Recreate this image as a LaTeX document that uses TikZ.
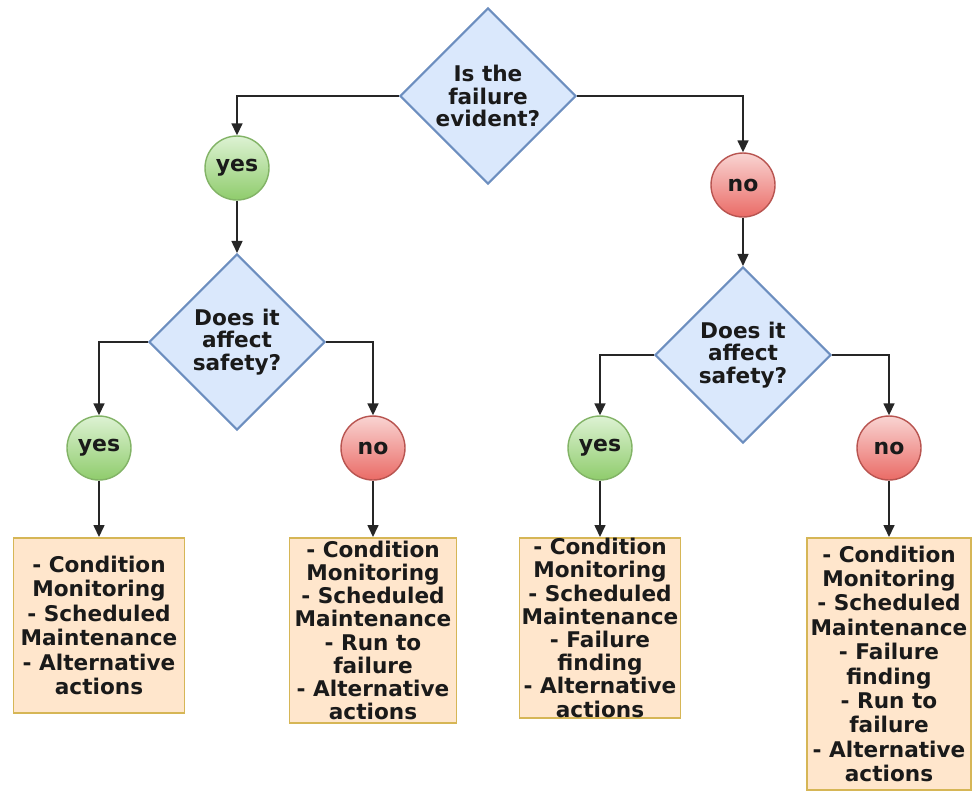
\documentclass[tikz,border=0pt]{standalone}
\usepackage{fontspec}
\setmainfont{DejaVu Sans}
\usetikzlibrary{shapes.geometric, arrows.meta}

\definecolor{qfill}{HTML}{DAE8FC}
\definecolor{qline}{HTML}{6C8EBF}
\definecolor{yestop}{HTML}{DDF2D3}
\definecolor{yesbot}{HTML}{8FCC6C}
\definecolor{yesline}{HTML}{82B366}
\definecolor{notop}{HTML}{F9D4D2}
\definecolor{nobot}{HTML}{EA6B66}
\definecolor{noline}{HTML}{B85450}
\definecolor{actfill}{HTML}{FFE6CC}
\definecolor{actline}{HTML}{D6B656}
\definecolor{txt}{HTML}{1A1A1A}

\tikzset{
  question/.style={diamond, draw=qline, fill=qfill, line width=1.2pt, inner sep=0pt,
    minimum width=3.52cm, minimum height=3.52cm, align=center, text=txt,
    font=\bfseries\fontsize{12.3}{12.8}\selectfont},
  yesdot/.style={circle, draw=yesline, top color=yestop, bottom color=yesbot, line width=0.8pt,
    minimum size=1.28cm, inner sep=0pt, text=txt, font=\bfseries\fontsize{12.5}{14}\selectfont},
  nodot/.style={circle, draw=noline, top color=notop, bottom color=nobot, line width=0.8pt,
    minimum size=1.28cm, inner sep=0pt, text=txt, font=\bfseries\fontsize{12.5}{14}\selectfont},
  actions/.style={rectangle, draw=actline, fill=actfill, line width=1pt, anchor=north,
    align=center, text=txt, inner sep=0pt, font=\bfseries\fontsize{12.3}{13.2}\selectfont},
  wide/.style={font=\bfseries\fontsize{12.3}{13.9}\selectfont},
  link/.style={draw=black!85, line width=0.9pt, -{Triangle[length=2.4mm, width=2.2mm]}}
}

\begin{document}
\begin{tikzpicture}[x=0.02cm, y=-0.02cm]
\useasboundingbox (0,0) rectangle (973,796);

\node[question] (evident) at (488,96) {Is the\\failure\\evident?};
\node[yesdot] (yesTop) at (237,168) {yes};
\node[nodot] (noTop) at (743,185) {no};

\node[question] (safeL) at (237,342) {Does it\\affect\\safety?};
\node[question] (safeR) at (743,355) {Does it\\affect\\safety?};

\node[yesdot] (yesL) at (99,448) {yes};
\node[nodot] (noL) at (373,448) {no};
\node[yesdot] (yesR) at (600,448) {yes};
\node[nodot] (noR) at (889,448) {no};

\node[actions, wide, minimum width=3.42cm, minimum height=3.5cm] (actLY) at (99,537)
  {- Condition\\Monitoring\\- Scheduled\\Maintenance\\- Alternative\\actions};
\node[actions, minimum width=3.34cm, minimum height=3.7cm] (actLN) at (373,537)
  {- Condition\\Monitoring\\- Scheduled\\Maintenance\\- Run to\\failure\\- Alternative\\actions};
\node[actions, minimum width=3.22cm, minimum height=3.6cm] (actRY) at (600,537)
  {- Condition\\Monitoring\\- Scheduled\\Maintenance\\- Failure\\finding\\- Alternative\\actions};
\node[actions, wide, minimum width=3.28cm, minimum height=5.04cm] (actRN) at (889,537)
  {- Condition\\Monitoring\\- Scheduled\\Maintenance\\- Failure\\finding\\- Run to\\failure\\- Alternative\\actions};

\draw[link] (evident.west) -| (yesTop);
\draw[link] (evident.east) -| (noTop);
\draw[link] (yesTop) -- (safeL);
\draw[link] (noTop) -- (safeR);

\draw[link] (safeL.west) -| (yesL);
\draw[link] (safeL.east) -| (noL);
\draw[link] (safeR.west) -| (yesR);
\draw[link] (safeR.east) -| (noR);

\draw[link] (yesL) -- (actLY);
\draw[link] (noL) -- (actLN);
\draw[link] (yesR) -- (actRY);
\draw[link] (noR) -- (actRN);

\end{tikzpicture}
\end{document}
